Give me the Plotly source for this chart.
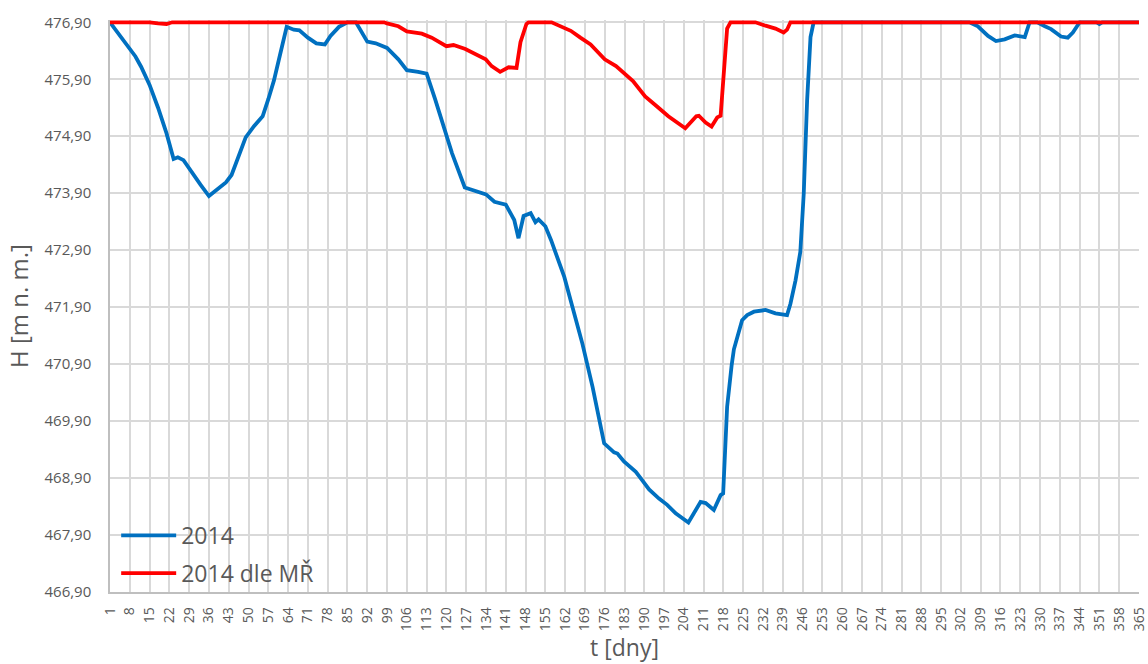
import plotly.graph_objects as go

# ---- data ----
blue_days = [1, 4, 6, 8, 10, 12, 15, 18, 21, 23.5, 25, 27, 30, 33, 36, 39, 42, 44, 46, 49,
             52, 55, 57, 59, 61, 63.5, 66, 68, 71, 74, 77, 79, 82, 85, 88, 90, 92, 95, 99,
             103, 106, 110, 113, 116, 120, 122, 126.5, 130, 134, 137, 141, 144, 145.5,
             147.3, 149.8, 151.5, 152.6, 155, 157, 161.7, 164.6, 168.1, 171.7, 174, 175.8,
             179.3, 180.5, 182.8, 187, 189.3, 191.7, 195.2, 198.1, 201.1, 205.6, 209.9,
             211.7, 214.6, 217, 217.9, 219.3, 220.9, 221.7, 224.6, 226.4, 228.8, 232.9,
             236.4, 240.5, 241.7, 243.5, 245.2, 246.4, 247.6, 248.8, 249.9, 305, 308,
             311.6, 314.4, 317.5, 321, 324.6, 326.3, 329, 331.7, 333.9, 337.4, 339.8,
             341.6, 344, 350, 351, 352, 365]
blue_vals = [476.90, 476.70, 476.55, 476.43, 476.30, 476.12, 475.80, 475.40, 474.95, 474.50,
             474.53, 474.48, 474.25, 474.05, 473.85, 473.97, 474.09, 474.22, 474.50, 474.88,
             475.08, 475.25, 475.55, 475.88, 476.30, 476.82, 476.77, 476.76, 476.63, 476.53,
             476.51, 476.66, 476.82, 476.90, 476.90, 476.72, 476.56, 476.53, 476.45,
             476.25, 476.06, 476.03, 476.00, 475.55, 474.90, 474.60, 474.00, 473.94,
             473.88, 473.75, 473.70, 473.43, 473.11, 473.50, 473.55, 473.39, 473.44,
             473.32, 473.08, 472.43, 471.90, 471.26, 470.50, 469.92, 469.51, 469.35,
             469.33, 469.19, 469.01, 468.86, 468.70, 468.54, 468.43, 468.28, 468.12,
             468.48, 468.46, 468.34, 468.60, 468.63, 470.15, 470.88, 471.16, 471.67,
             471.76, 471.82, 471.85, 471.79, 471.76, 471.96, 472.37, 472.87, 473.89,
             475.53, 476.64, 476.90, 476.90, 476.83, 476.66, 476.57, 476.60, 476.67,
             476.64, 476.90, 476.90, 476.83, 476.78, 476.65, 476.63, 476.72, 476.90,
             476.90, 476.87, 476.90, 476.90]

red_days = [1, 15, 18, 21, 23, 98, 99, 103, 106, 111.3, 114.8, 120, 122.5, 126.7, 133.9,
            136, 139, 142, 144.8, 146.2, 148.3, 149, 157.2, 160.7, 164, 167.4, 171, 176,
            180, 186, 190.3, 194.3, 198.5, 204.5, 208.4, 209.3, 211.7, 213.8, 215.8, 217,
            218.2, 219.3, 220.5, 229.3, 232.9, 236.4, 239.3, 240.5, 241.7, 365]
red_vals = [476.90, 476.90, 476.88, 476.87, 476.90, 476.90, 476.88, 476.83, 476.74, 476.70,
            476.63, 476.48, 476.50, 476.43, 476.25, 476.13, 476.03, 476.11, 476.10, 476.55,
            476.87, 476.90, 476.90, 476.83, 476.75, 476.63, 476.51, 476.25, 476.13, 475.87,
            475.60, 475.43, 475.25, 475.04, 475.25, 475.26, 475.14, 475.07, 475.23, 475.26,
            476.14, 476.79, 476.90, 476.90, 476.84, 476.79, 476.72, 476.77, 476.90, 476.90]

x_tick_days = list(range(1, 366, 7))
y_tick_vals = [466.9, 467.9, 468.9, 469.9, 470.9, 471.9, 472.9, 473.9, 474.9, 475.9, 476.9]
y_tick_text = ["466,90", "467,90", "468,90", "469,90", "470,90", "471,90", "472,90",
               "473,90", "474,90", "475,90", "476,90"]

series_names = ["2014", "2014 dle MŘ"]
series_colors = ["#0070c0", "#ff0000"]

# ---- figure ----
fig = go.Figure()
fig.add_trace(go.Scatter(x=blue_days, y=blue_vals, mode="lines", name=series_names[0],
                         legendgroup="a",
                         line=dict(color=series_colors[0], width=3.8, shape="linear")))
fig.add_trace(go.Scatter(x=red_days, y=red_vals, mode="lines", name=series_names[1],
                         legendgroup="b",
                         line=dict(color=series_colors[1], width=3.8, shape="linear")))

text_color = "#595959"
fig.update_layout(
    width=1148, height=664,
    margin=dict(l=110, r=9, t=20, b=72),
    paper_bgcolor="white", plot_bgcolor="white",
    font=dict(family="Open Sans", color=text_color),
    legend=dict(x=0.006, y=-0.005, xanchor="left", yanchor="bottom",
                bgcolor="rgba(0,0,0,0)", font=dict(size=23, color=text_color),
                itemwidth=55, tracegroupgap=5),
    showlegend=True,
)
fig.update_xaxes(
    range=[1, 365], tickmode="array", tickvals=x_tick_days,
    ticktext=[str(d) for d in x_tick_days], tickangle=-90,
    tickfont=dict(size=14, color=text_color),
    showgrid=True, gridcolor="#d9d9d9", gridwidth=1.5,
    showline=True, linecolor="#bfbfbf", linewidth=1.5,
    ticks="", ticklabelstandoff=8, zeroline=False, automargin=False,
    ticklabeloverflow="allow",
    title=dict(text="t [dny]", font=dict(size=23, color=text_color), standoff=8),
)
fig.update_yaxes(
    range=[466.9, 476.94], tickmode="array", tickvals=y_tick_vals, ticktext=y_tick_text,
    tickfont=dict(size=15, color=text_color),
    showgrid=True, gridcolor="#d9d9d9", gridwidth=1.5,
    showline=True, linecolor="#bfbfbf", linewidth=1.5,
    ticks="", ticklabelstandoff=14, zeroline=False, automargin=False,
    title=dict(text="H [m n. m.]", font=dict(size=24, color=text_color), standoff=9),
)

fig.write_html("out.html", config={"displayModeBar": False},
               post_script="document.body.style.margin='0';document.body.style.overflow='hidden';")
